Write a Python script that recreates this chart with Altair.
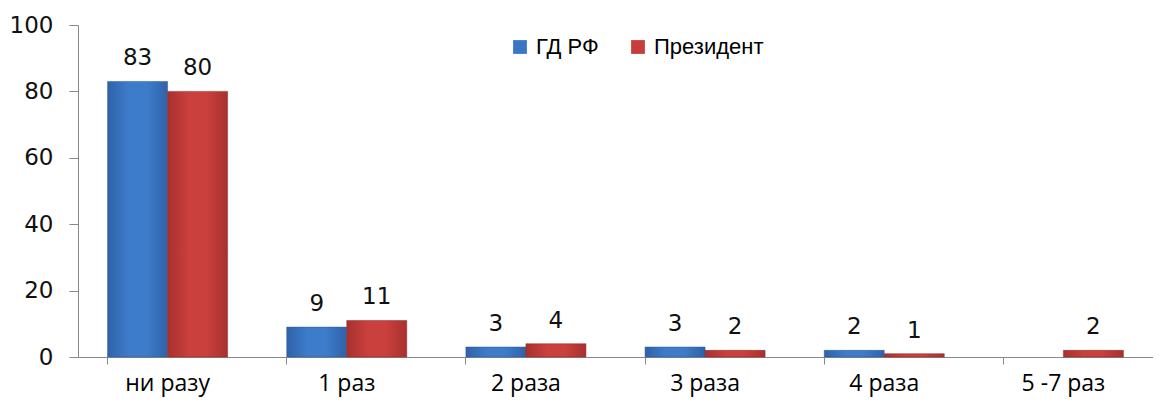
import altair as alt
import pandas as pd

categories = ["ни разу", "1 раз", "2 раза", "3 раза", "4 раза", "5 -7 раз"]
series = ["ГД РФ", "Президент"]
gd_values = [83, 9, 3, 3, 2, None]
pres_values = [80, 11, 4, 2, 1, 2]
colors = ["#3A76C6", "#C63D3B"]

rows = []
for c, g, p in zip(categories, gd_values, pres_values):
    if g is not None:
        rows.append({"cat": c, "series": series[0], "value": g})
    if p is not None:
        rows.append({"cat": c, "series": series[1], "value": p})
df = pd.DataFrame(rows)

x = alt.X("cat:N", sort=categories, title=None,
          scale=alt.Scale(paddingInner=0.33, paddingOuter=0.165),
          axis=alt.Axis(labelAngle=0, labelFont="Open Sans", labelFontSize=23,
                        labelColor="#000", labelPadding=19, domainColor="#888",
                        tickColor="#888", tickSize=7, bandPosition=0,
                        labelBaseline="middle"))
xo = alt.XOffset("series:N", sort=series, scale=alt.Scale(domain=series))
y = alt.Y("value:Q", title=None,
          scale=alt.Scale(domain=[0, 100]),
          axis=alt.Axis(values=[0, 20, 40, 60, 80, 100], grid=False,
                        labelFont="DejaVu Sans", labelFontSize=23, labelColor="#111",
                        labelFontWeight="normal",
                        labelPadding=16, domainColor="#888", tickColor="#888",
                        tickSize=9))

base = alt.Chart(df).encode(x=x, xOffset=xo, y=y)

def grad(c_edge, c_mid):
    return alt.Gradient(gradient="linear", x1=0, x2=1, y1=0, y2=0,
                        stops=[alt.GradientStop(color=c_edge, offset=0),
                               alt.GradientStop(color=c_mid, offset=0.35),
                               alt.GradientStop(color=c_mid, offset=0.65),
                               alt.GradientStop(color=c_edge, offset=1)])

legend_layer = base.mark_bar(opacity=0).encode(
    color=alt.Color("series:N", sort=series,
                    scale=alt.Scale(domain=series, range=colors),
                    legend=alt.Legend(title=None, orient="none", direction="horizontal",
                                      legendX=431, legendY=11, symbolType="square",
                                      symbolSize=190, symbolOpacity=1,
                                      labelFont="Liberation Sans",
                                      labelFontSize=22, labelColor="#000",
                                      columnPadding=28, symbolStrokeWidth=0,
                                      labelOffset=5))
)

bars_gd = base.transform_filter(alt.datum.series == series[0]).mark_bar(
    color=grad("#2F62A8", "#3D7CCB"), stroke="#2A5A9A", strokeWidth=1, strokeOpacity=0.5)
bars_pr = base.transform_filter(alt.datum.series == series[1]).mark_bar(
    color=grad("#A8302E", "#C9403D"), stroke="#8E2A28", strokeWidth=1, strokeOpacity=0.5)

labels = base.mark_text(dy=-23, font="DejaVu Sans", fontSize=23, fontWeight="normal",
                        color="#111").encode(text=alt.Text("value:Q"))

chart = alt.layer(legend_layer, bars_gd, bars_pr, labels).properties(
    width=1075, height=332,
    padding={"left": 1, "top": 6, "right": 0, "bottom": 5},
).configure_view(stroke=None)

chart.save("out.html", embed_options={"renderer": "svg", "actions": False})
